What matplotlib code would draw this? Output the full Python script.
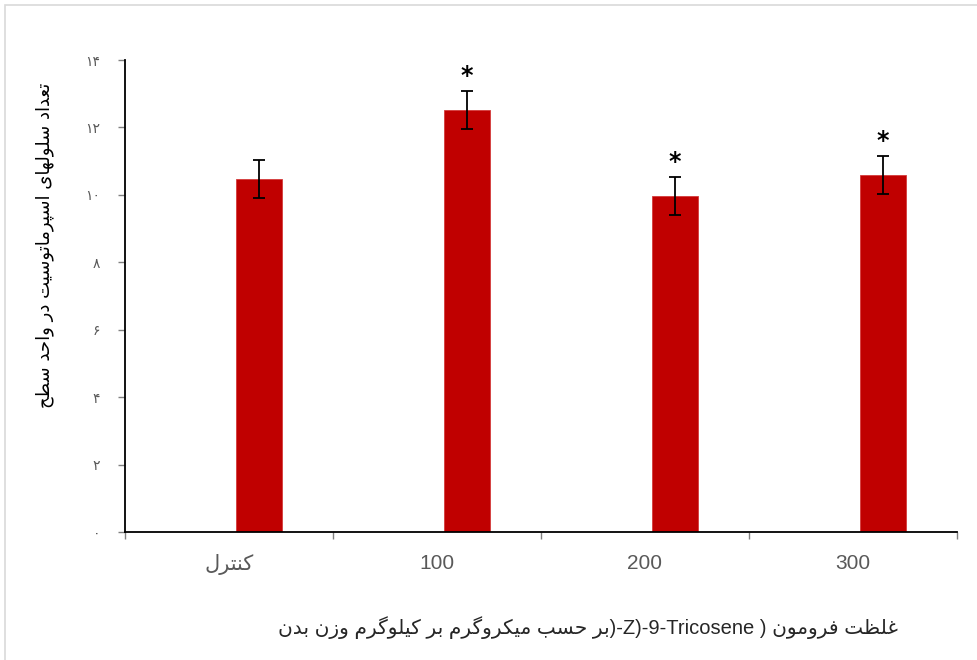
import numpy as np
import matplotlib
matplotlib.use('Agg')
import matplotlib.pyplot as plt
from matplotlib.patches import Rectangle

# data: spermatocyte cells per unit area vs pheromone dose
categories = ['کنترل', '100', '200', '300']
cell_counts = [10.48, 12.51, 9.97, 10.59]
cell_err = [0.56, 0.57, 0.56, 0.56]
significant = [False, True, True, True]
y_ticks = [0, 2, 4, 6, 8, 10, 12, 14]
y_title = 'تعداد سلولهای اسپرماتوسیت در واحد سطح'
x_title_start = 'غلظت فرومون'
x_title_compound = 'Z)-9-Tricosene'
x_title_end = 'بر حسب میکروگرم بر کیلوگرم وزن بدن'

# contextual forms (isolated, final, initial, medial); None = no joining to the next letter
FORMS = {
    'ا': ('\uFE8D', '\uFE8E', None, None),
    'ب': ('\uFE8F', '\uFE90', '\uFE91', '\uFE92'),
    'پ': ('\uFB56', '\uFB57', '\uFB58', '\uFB59'),
    'ت': ('\uFE95', '\uFE96', '\uFE97', '\uFE98'),
    'ح': ('\uFEA1', '\uFEA2', '\uFEA3', '\uFEA4'),
    'د': ('\uFEA9', '\uFEAA', None, None),
    'ر': ('\uFEAD', '\uFEAE', None, None),
    'ز': ('\uFEAF', '\uFEB0', None, None),
    'س': ('\uFEB1', '\uFEB2', '\uFEB3', '\uFEB4'),
    'ط': ('\uFEC1', '\uFEC2', '\uFEC3', '\uFEC4'),
    'ظ': ('\uFEC5', '\uFEC6', '\uFEC7', '\uFEC8'),
    'ع': ('\uFEC9', '\uFECA', '\uFECB', '\uFECC'),
    'غ': ('\uFECD', '\uFECE', '\uFECF', '\uFED0'),
    'ف': ('\uFED1', '\uFED2', '\uFED3', '\uFED4'),
    'ک': ('\uFB8E', '\uFB8F', '\uFB90', '\uFB91'),
    'گ': ('\uFB92', '\uFB93', '\uFB94', '\uFB95'),
    'ل': ('\uFEDD', '\uFEDE', '\uFEDF', '\uFEE0'),
    'م': ('\uFEE1', '\uFEE2', '\uFEE3', '\uFEE4'),
    'ن': ('\uFEE5', '\uFEE6', '\uFEE7', '\uFEE8'),
    'ه': ('\uFEE9', '\uFEEA', '\uFEEB', '\uFEEC'),
    'و': ('\uFEED', '\uFEEE', None, None),
    'ی': ('\uFBFC', '\uFBFD', '\uFBFE', '\uFBFF'),
}


def rtl(text):
    # shape persian letters and lay them out right-to-left; leave latin/digits alone
    if not any(ch in FORMS for ch in text):
        return text
    out = []
    for i, ch in enumerate(text):
        if ch not in FORMS:
            out.append(ch)
            continue
        prev = text[i - 1] if i > 0 else ''
        nxt = text[i + 1] if i + 1 < len(text) else ''
        join_prev = prev in FORMS and FORMS[prev][2] is not None
        join_next = nxt in FORMS and FORMS[ch][2] is not None
        iso, fin, ini, med = FORMS[ch]
        if join_prev and join_next:
            out.append(med)
        elif join_prev:
            out.append(fin)
        elif join_next:
            out.append(ini)
        else:
            out.append(iso)
    return ''.join(out)[::-1]


def fa_digits(n):
    return str(n).translate(str.maketrans('0123456789', '۰۱۲۳۴۵۶۷۸۹'))


plt.rcParams['font.family'] = ['Liberation Sans', 'DejaVu Sans']

fig = plt.figure(figsize=(9.77, 6.6), dpi=100)
fig.patches.append(Rectangle((4.5 / 977, -0.1), 1.2, 1 - 4.5 / 660 + 0.1,
                             transform=fig.transFigure, fill=False,
                             edgecolor='#d9d9d9', lw=1.2))
ax = fig.add_axes([125 / 977, 128 / 660, 832 / 977, 472 / 660])

x = np.arange(len(categories))
xpos = x + 0.144
ax.bar(xpos, cell_counts, width=0.224, color='#c00000', edgecolor='#d43a3a', linewidth=0.6, zorder=2)
ax.errorbar(xpos, cell_counts, yerr=cell_err, fmt='none', ecolor='black',
            elinewidth=1.3, capsize=4.3, capthick=1.3, zorder=3)
for xp, v, e, s in zip(xpos, cell_counts, cell_err, significant):
    if s:
        ax.text(xp, v + e + 0.45, '*', ha='center', va='center', fontsize=17,
                fontweight='bold', family='DejaVu Sans')

ax.set_xlim(-0.5, 3.5)
ax.set_ylim(0, 14)
ax.set_yticks(y_ticks)
ax.set_yticklabels([fa_digits(t) for t in y_ticks], family='DejaVu Sans')
ax.set_xticks(x)
ax.set_xticklabels([rtl(c) for c in categories])
ax.set_xticks(np.arange(-0.5, 4, 1), minor=True)

for s in ['top', 'right']:
    ax.spines[s].set_visible(False)
for s in ['left', 'bottom']:
    ax.spines[s].set_linewidth(1.3)
ax.tick_params(axis='y', length=5, width=1, color='#808080', pad=13,
               labelsize=10, labelcolor='#595959')
ax.tick_params(axis='x', which='major', length=0, pad=16, labelsize=15, labelcolor='#595959')
ax.tick_params(axis='x', which='minor', length=5, width=1, color='#808080')

fig.text(45 / 977, 1 - 245 / 660, rtl(y_title), rotation=90, ha='center', va='center',
         fontsize=13, family='DejaVu Sans', color='black')
# right-to-left line: the latin compound name sits between the two persian runs
x_title = rtl(x_title_end) + ')-' + x_title_compound + ' ) ' + rtl(x_title_start)
fig.text(588 / 977, 1 - 628 / 660, x_title, ha='center', va='center',
         fontsize=14.5, color='#262626')

fig.savefig('out.png', dpi=100)
